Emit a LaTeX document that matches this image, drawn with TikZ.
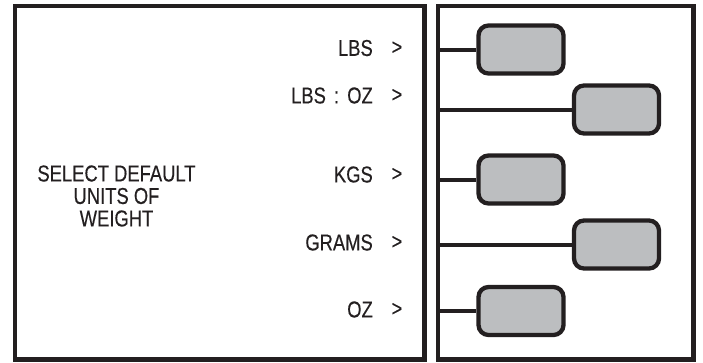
\documentclass[tikz,border=0pt]{standalone}
\usepackage{fontspec}
\setmainfont{Liberation Sans}[FakeStretch=0.8,FakeBold=0.3]
\definecolor{ink}{HTML}{231F20}
\definecolor{keygray}{HTML}{BCBEC0}
\begin{document}
\begin{tikzpicture}[x=1pt,y=-1pt,
  frame/.style={draw=ink,line width=4.5pt},
  keybox/.style={draw=ink,fill=keygray,line width=4.3pt,rounded corners=10pt,minimum width=85pt,minimum height=48pt,inner sep=0pt},
  link/.style={draw=ink,line width=4pt},
  label/.style={font=\fontsize{23}{23}\selectfont,text=ink,inner sep=0pt,anchor=east},
  arrowlabel/.style={font=\fontsize{22}{23}\selectfont,text=ink,inner sep=0pt}]
\useasboundingbox (0,0) rectangle (703,362);
\draw[frame] (15,6) rectangle (424.7,359.5);
\draw[frame] (438,6) rectangle (693.7,359.5);
\coordinate (rl) at (438,0);
% text
\node[font=\fontsize{23}{22.5}\selectfont,text=ink,align=center,inner sep=0pt] (title) at (116.5,196) {SELECT DEFAULT\\UNITS OF\\WEIGHT};
\foreach \n/\t/\y in {a/LBS/48, b/{LBS\ \hspace{3pt}:\ \hspace{3pt}OZ}/95.5, c/KGS/174.5, d/GRAMS/242.5, e/OZ/309.5}{
  \node[label] (t\n) at (373,\y) {\t};
  \node[arrowlabel] (g\n) at (397,\y) {>};
}
% keys
\node[keybox] (ka) at (521,49.5) {};
\node[keybox] (kb) at (616.5,109.5) {};
\node[keybox] (kc) at (521,179.5) {};
\node[keybox] (kd) at (616.5,244.5) {};
\node[keybox] (ke) at (521,311) {};
\foreach \k in {a,b,c,d,e}{
  \draw[link] (rl |- k\k.west) -- (k\k.west);
}
\end{tikzpicture}
\end{document}
